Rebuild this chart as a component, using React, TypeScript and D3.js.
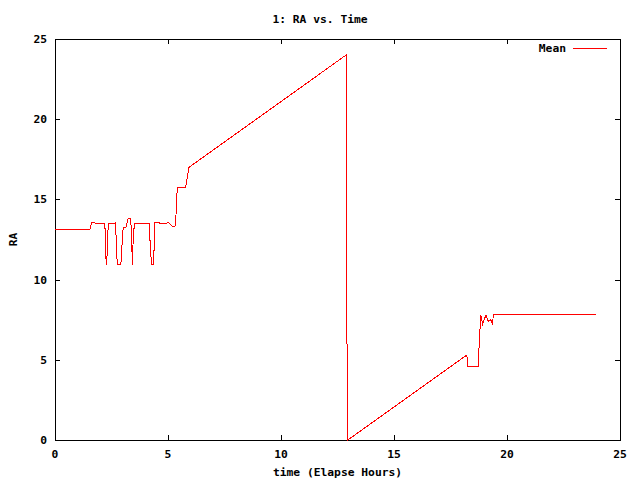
import React from "react";
import * as d3 from "d3";

const times = [0, 1.55, 1.62, 2.21, 2.23, 2.29, 2.33, 2.38, 2.65, 2.68, 2.73, 2.76, 2.91, 2.95, 2.98, 3.02, 3.14, 3.24, 3.35, 3.38, 3.41, 3.42, 3.47, 3.52, 4.17, 4.23, 4.28, 4.35, 4.40, 4.42, 4.91, 5.01, 5.09, 5.19, 5.31, 5.35, 5.41, 5.78, 5.93, 12.88, 12.88, 12.92, 12.96, 18.22, 18.27, 18.72, 18.75, 18.81, 18.84, 18.92, 19.07, 19.16, 19.29, 19.35, 19.40, 23.92];
const meanRA = [13.13, 13.13, 13.55, 13.47, 11.64, 10.93, 12.88, 13.47, 13.47, 13.57, 11.64, 10.93, 10.93, 11.64, 12.68, 13.26, 13.26, 13.82, 13.82, 12.88, 11.64, 10.93, 12.88, 13.47, 13.47, 11.64, 10.93, 10.93, 12.37, 13.57, 13.47, 13.57, 13.47, 13.34, 13.34, 13.92, 15.75, 15.75, 17.0, 24.0, 18.0, 6.1, 0, 5.3, 4.6, 4.6, 5.4, 7.0, 7.8, 7.23, 7.8, 7.4, 7.5, 7.2, 7.8, 7.8];
const xTicks = [0, 5, 10, 15, 20, 25];
const yTicks = [0, 5, 10, 15, 20, 25];
const title = "1: RA vs. Time";
const xLabel = "time (Elapse Hours)";
const yLabel = "RA";
const seriesName = "Mean";

export default function App() {
  const W = 640, H = 480;
  const left = 55, right = 620, top = 39, bottom = 440;
  const x = d3.scaleLinear().domain([0, 25]).range([left, right]);
  const y = d3.scaleLinear().domain([0, 25]).range([bottom, top]);
  const data = times.map((t, i) => [t, meanRA[i]] as [number, number]);
  const line = d3.line<[number, number]>().x(d => x(d[0])).y(d => y(d[1]));
  const font = "'DejaVu Sans Mono', 'Liberation Mono', monospace";
  const tick = 5;
  return (
    <svg width={W} height={H} style={{ position: "absolute", left: 0, top: 0, background: "#fff" }}
      fontFamily={font} fontWeight="bold" fontSize={11.3}>
      <rect x={0} y={0} width={W} height={H} fill="#fff" />
      <g shapeRendering="crispEdges" stroke="#000" strokeWidth={1}>
        {xTicks.map(t => (
          <g key={"x" + t}>
            <line x1={Math.round(x(t)) + 0.5} x2={Math.round(x(t)) + 0.5} y1={bottom} y2={bottom - tick} />
            <line x1={Math.round(x(t)) + 0.5} x2={Math.round(x(t)) + 0.5} y1={top} y2={top + tick} />
          </g>
        ))}
        {yTicks.map(t => (
          <g key={"y" + t}>
            <line x1={left} x2={left + tick} y1={Math.round(y(t)) + 0.5} y2={Math.round(y(t)) + 0.5} />
            <line x1={right} x2={right - tick} y1={Math.round(y(t)) + 0.5} y2={Math.round(y(t)) + 0.5} />
          </g>
        ))}
        <rect x={left + 0.5} y={top + 0.5} width={right - left} height={bottom - top} fill="none" />
      </g>
      {xTicks.map(t => (
        <text key={"xl" + t} x={x(t)} y={bottom + 18} textAnchor="middle">{t}</text>
      ))}
      {yTicks.map(t => (
        <text key={"yl" + t} x={left - 8} y={y(t) + 4} textAnchor="end">{t}</text>
      ))}
      <text x={W / 2} y={23} textAnchor="middle">{title}</text>
      <text x={(left + right) / 2} y={476} textAnchor="middle">{xLabel}</text>
      <text transform={`translate(17,${(top + bottom) / 2}) rotate(-90)`} textAnchor="middle">{yLabel}</text>
      <text x={566} y={52} textAnchor="end">{seriesName}</text>
      <line x1={573} x2={607} y1={48.5} y2={48.5} stroke="#ff0000" strokeWidth={1} shapeRendering="crispEdges" />
      <path d={line(data) || ""} fill="none" stroke="#ff0000" strokeWidth={1} shapeRendering="crispEdges" />
    </svg>
  );
}
